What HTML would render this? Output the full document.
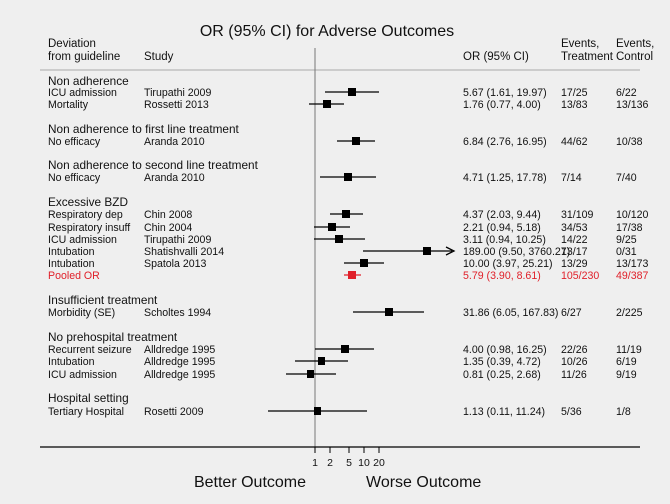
<!DOCTYPE html>
<html><head><meta charset="utf-8"><style>
html,body{margin:0;padding:0;background:#efefef}
svg{display:block}
text{font-family:"Liberation Sans",Arial,sans-serif;fill:#111}
.s{font-size:10.6px}
.h{font-size:11.8px}
.r{fill:#e0202a}
</style></head><body>
<svg width="670" height="504" viewBox="0 0 670 504" xmlns="http://www.w3.org/2000/svg">
<rect width="670" height="504" fill="#efefef"/>
<text x="327" y="36" text-anchor="middle" style="font-size:16px">OR (95% CI) for Adverse Outcomes</text>
<g style="font-size:11.5px">
<text x="48" y="47">Deviation</text>
<text x="48" y="60">from guideline</text>
<text x="144" y="60">Study</text>
<text x="463" y="60">OR (95% CI)</text>
<text x="561" y="47">Events,</text>
<text x="561" y="60">Treatment</text>
<text x="616" y="47">Events,</text>
<text x="616" y="60">Control</text>
</g>
<line x1="40" y1="70" x2="640" y2="70" stroke="#aaa" stroke-width="1"/>
<line x1="315" y1="48" x2="315" y2="450" stroke="#777" stroke-width="1"/>
<g>
<text x="48" y="85" class="h">Non adherence</text>
<text x="48" y="133" class="h">Non adherence to first line treatment</text>
<text x="48" y="169" class="h">Non adherence to second line treatment</text>
<text x="48" y="206" class="h">Excessive BZD</text>
<text x="48" y="304" class="h">Insufficient treatment</text>
<text x="48" y="341" class="h">No prehospital treatment</text>
<text x="48" y="402" class="h">Hospital setting</text>
</g>
<g class="s">
<text x="48" y="96">ICU admission</text><text x="144" y="96">Tirupathi 2009</text><text x="463" y="96">5.67 (1.61, 19.97)</text><text x="561" y="96">17/25</text><text x="616" y="96">6/22</text>
<text x="48" y="108">Mortality</text><text x="144" y="108">Rossetti 2013</text><text x="463" y="108">1.76 (0.77, 4.00)</text><text x="561" y="108">13/83</text><text x="616" y="108">13/136</text>
<text x="48" y="145">No efficacy</text><text x="144" y="145">Aranda 2010</text><text x="463" y="145">6.84 (2.76, 16.95)</text><text x="561" y="145">44/62</text><text x="616" y="145">10/38</text>
<text x="48" y="181">No efficacy</text><text x="144" y="181">Aranda 2010</text><text x="463" y="181">4.71 (1.25, 17.78)</text><text x="561" y="181">7/14</text><text x="616" y="181">7/40</text>
<text x="48" y="218">Respiratory dep</text><text x="144" y="218">Chin 2008</text><text x="463" y="218">4.37 (2.03, 9.44)</text><text x="561" y="218">31/109</text><text x="616" y="218">10/120</text>
<text x="48" y="231">Respiratory insuff</text><text x="144" y="231">Chin 2004</text><text x="463" y="231">2.21 (0.94, 5.18)</text><text x="561" y="231">34/53</text><text x="616" y="231">17/38</text>
<text x="48" y="243">ICU admission</text><text x="144" y="243">Tirupathi 2009</text><text x="463" y="243">3.11 (0.94, 10.25)</text><text x="561" y="243">14/22</text><text x="616" y="243">9/25</text>
<text x="48" y="255">Intubation</text><text x="144" y="255">Shatishvalli 2014</text><text x="463" y="255">189.00 (9.50, 3760.27)</text><text x="561" y="255">13/17</text><text x="616" y="255">0/31</text>
<text x="48" y="267">Intubation</text><text x="144" y="267">Spatola 2013</text><text x="463" y="267">10.00 (3.97, 25.21)</text><text x="561" y="267">13/29</text><text x="616" y="267">13/173</text>
<text x="48" y="279" class="r">Pooled OR</text><text x="463" y="279" class="r">5.79 (3.90, 8.61)</text><text x="561" y="279" class="r">105/230</text><text x="616" y="279" class="r">49/387</text>
<text x="48" y="316">Morbidity (SE)</text><text x="144" y="316">Scholtes 1994</text><text x="463" y="316">31.86 (6.05, 167.83)</text><text x="561" y="316">6/27</text><text x="616" y="316">2/225</text>
<text x="48" y="353">Recurrent seizure</text><text x="144" y="353">Alldredge 1995</text><text x="463" y="353">4.00 (0.98, 16.25)</text><text x="561" y="353">22/26</text><text x="616" y="353">11/19</text>
<text x="48" y="365">Intubation</text><text x="144" y="365">Alldredge 1995</text><text x="463" y="365">1.35 (0.39, 4.72)</text><text x="561" y="365">10/26</text><text x="616" y="365">6/19</text>
<text x="48" y="378">ICU admission</text><text x="144" y="378">Alldredge 1995</text><text x="463" y="378">0.81 (0.25, 2.68)</text><text x="561" y="378">11/26</text><text x="616" y="378">9/19</text>
<text x="48" y="415">Tertiary Hospital</text><text x="144" y="415">Rosetti 2009</text><text x="463" y="415">1.13 (0.11, 11.24)</text><text x="561" y="415">5/36</text><text x="616" y="415">1/8</text>
</g>
<g stroke="#000" stroke-width="1.3">
<line x1="325" y1="92" x2="379" y2="92"/>
<line x1="309" y1="104" x2="344" y2="104"/>
<line x1="337" y1="141" x2="375" y2="141"/>
<line x1="320" y1="177" x2="376" y2="177"/>
<line x1="330" y1="214" x2="363" y2="214"/>
<line x1="314" y1="227" x2="350" y2="227"/>
<line x1="314" y1="239" x2="365" y2="239"/>
<line x1="363" y1="251" x2="452" y2="251"/>
<line x1="344" y1="263" x2="384" y2="263"/>
<line x1="353" y1="312" x2="424" y2="312"/>
<line x1="315" y1="349" x2="374" y2="349"/>
<line x1="295" y1="361" x2="348" y2="361"/>
<line x1="286" y1="374" x2="336" y2="374"/>
<line x1="268" y1="411" x2="367" y2="411"/>
</g>
<polyline points="446,247 454,251 446,255" fill="none" stroke="#000" stroke-width="1.3"/>
<line x1="344" y1="275" x2="361" y2="275" stroke="#e0202a" stroke-width="1.3"/>
<g fill="#000">
<rect x="348" y="88" width="8" height="8"/>
<rect x="323" y="100" width="8" height="8"/>
<rect x="352" y="137" width="8" height="8"/>
<rect x="344" y="173" width="8" height="8"/>
<rect x="342" y="210" width="8" height="8"/>
<rect x="328" y="223" width="8" height="8"/>
<rect x="335" y="235" width="8" height="8"/>
<rect x="423" y="247" width="8" height="8"/>
<rect x="360" y="259" width="8" height="8"/>
<rect x="385" y="308" width="8" height="8"/>
<rect x="341" y="345" width="8" height="8"/>
<rect x="318" y="357" width="7" height="8"/>
<rect x="307" y="370" width="7" height="8"/>
<rect x="314" y="407" width="7" height="8"/>
</g>
<rect x="348" y="271" width="8" height="8" fill="#e0202a"/>
<line x1="40" y1="447" x2="640" y2="447" stroke="#000" stroke-width="1.3"/>
<g stroke="#000" stroke-width="1">
<line x1="315" y1="447" x2="315" y2="453"/>
<line x1="330" y1="447" x2="330" y2="453"/>
<line x1="349" y1="447" x2="349" y2="453"/>
<line x1="364" y1="447" x2="364" y2="453"/>
<line x1="379" y1="447" x2="379" y2="453"/>
</g>
<g font-size="10.5" text-anchor="middle">
<text x="315" y="466">1</text><text x="330" y="466">2</text><text x="349" y="466">5</text><text x="364" y="466">10</text><text x="379" y="466">20</text>
</g>
<text x="250" y="487" text-anchor="middle" style="font-size:16px">Better Outcome</text>
<text x="366" y="487" style="font-size:16px">Worse Outcome</text>
</svg>
</body></html>
